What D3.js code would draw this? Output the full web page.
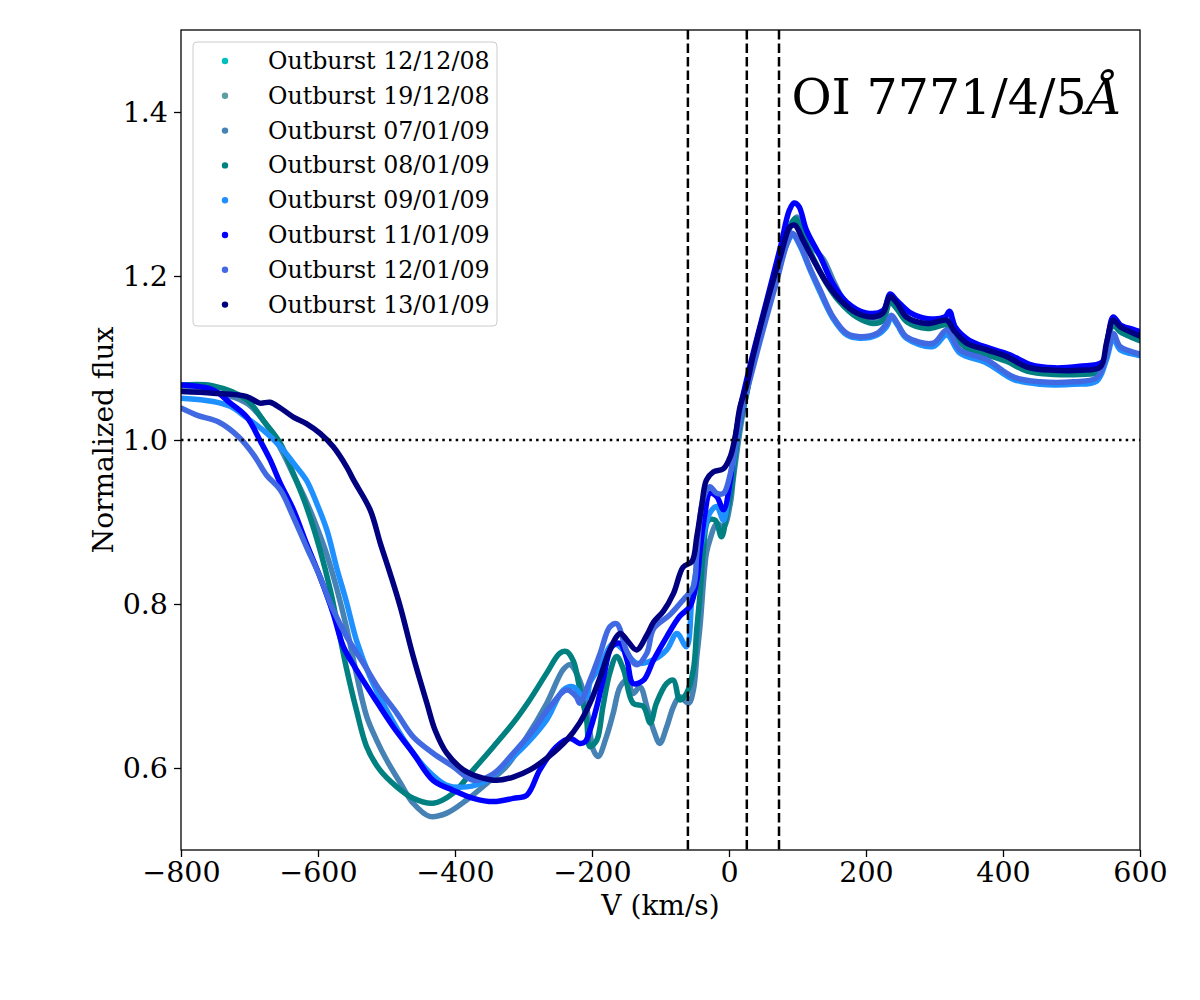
<!DOCTYPE html>
<html>
<head>
<meta charset="utf-8">
<script src="https://cdn.jsdelivr.net/npm/d3@7"></script>
<style>
  body { margin: 0; background: #fff; }
  svg { display: block; }
  text { font-family: "DejaVu Serif", serif; }
</style>
</head>
<body>
<svg id="chart" width="1200" height="1000"></svg>
<script>
// ---- Data (velocity km/s, normalized flux) ----
const seriesNames = ["Outburst 12/12/08","Outburst 19/12/08","Outburst 07/01/09","Outburst 08/01/09",
                     "Outburst 09/01/09","Outburst 11/01/09","Outburst 12/01/09","Outburst 13/01/09"];
const seriesColors = ["#00bfbf","#5f9ea0","#4682b4","#008080","#1e90ff","#0000ff","#4169e1","#000080"];

const out121208 = [];
const out191208 = [];
const out070109 = [[-800,1.060],[-750,1.058],[-704,1.045],[-680,1.024],[-655,0.990],[-636,0.958],[-617,0.925],[-600,0.890],[-587,0.860],[-573,0.820],[-558,0.770],[-544,0.715],[-529,0.663],[-515,0.635],[-500,0.610],[-480,0.582],[-461,0.557],[-437,0.541],[-412,0.545],[-383,0.561],[-354,0.581],[-325,0.602],[-295,0.638],[-266,0.679],[-242,0.720],[-232,0.726],[-218,0.707],[-208,0.675],[-198,0.622],[-191,0.614],[-179,0.638],[-169,0.667],[-159,0.699],[-149,0.707],[-140,0.691],[-130,0.699],[-120,0.675],[-110,0.646],[-101,0.630],[-91,0.650],[-81,0.675],[-72,0.687],[-59,0.679],[-52,0.695],[-47,0.736],[-42,0.776],[-37,0.830],[-33,0.862],[-28,0.878],[-18,0.898],[-8,0.894],[2,0.923],[6,0.951],[14,1.000],[21,1.037],[30,1.075],[45,1.125],[60,1.175],[78,1.230],[92,1.265],[99,1.272],[108,1.258],[123,1.235],[138,1.220],[152,1.195],[167,1.171],[182,1.159],[200,1.150],[222,1.150],[234,1.172],[245,1.163],[262,1.148],[290,1.140],[316,1.144],[324,1.150],[332,1.133],[350,1.116],[378,1.107],[408,1.098],[438,1.086],[475,1.082],[512,1.082],[542,1.086],[552,1.114],[561,1.144],[572,1.134],[592,1.126],[600,1.124]];
const out080109 = [[-800,1.067],[-753,1.066],[-704,1.049],[-680,1.024],[-655,0.996],[-636,0.959],[-617,0.919],[-597,0.866],[-582,0.817],[-568,0.760],[-558,0.720],[-544,0.671],[-529,0.626],[-510,0.598],[-485,0.577],[-461,0.563],[-432,0.557],[-403,0.569],[-373,0.598],[-344,0.626],[-315,0.655],[-291,0.683],[-266,0.716],[-247,0.740],[-237,0.742],[-227,0.730],[-218,0.697],[-208,0.659],[-203,0.626],[-193,0.634],[-184,0.675],[-174,0.716],[-164,0.736],[-154,0.720],[-140,0.679],[-125,0.675],[-115,0.655],[-106,0.679],[-91,0.703],[-81,0.707],[-72,0.683],[-62,0.691],[-52,0.720],[-47,0.770],[-42,0.815],[-38,0.860],[-30,0.902],[-20,0.902],[-11,0.882],[-3,0.911],[4,0.943],[9,0.980],[16,1.020],[26,1.057],[35,1.100],[55,1.165],[75,1.225],[90,1.262],[97,1.270],[108,1.250],[123,1.222],[143,1.190],[162,1.168],[186,1.150],[211,1.142],[225,1.146],[235,1.168],[245,1.160],[260,1.144],[290,1.136],[318,1.140],[328,1.128],[347,1.112],[376,1.104],[405,1.096],[435,1.084],[474,1.080],[512,1.080],[542,1.084],[551,1.112],[561,1.140],[571,1.132],[591,1.124],[600,1.121]];
const out090109 = [[-800,1.051],[-753,1.047],[-728,1.041],[-704,1.027],[-680,1.012],[-655,0.992],[-636,0.972],[-617,0.951],[-602,0.923],[-587,0.890],[-573,0.845],[-558,0.801],[-544,0.756],[-524,0.711],[-500,0.671],[-471,0.630],[-441,0.598],[-412,0.579],[-383,0.577],[-354,0.585],[-325,0.606],[-295,0.630],[-266,0.659],[-242,0.695],[-227,0.699],[-218,0.691],[-208,0.686],[-203,0.704],[-188,0.724],[-169,0.752],[-154,0.744],[-135,0.728],[-110,0.732],[-91,0.744],[-76,0.764],[-62,0.748],[-54,0.809],[-47,0.845],[-38,0.882],[-28,0.911],[-18,0.919],[-8,0.902],[-1,0.935],[6,0.972],[16,1.025],[30,1.075],[50,1.140],[70,1.200],[85,1.240],[93,1.250],[104,1.236],[118,1.208],[133,1.180],[152,1.148],[172,1.128],[191,1.124],[216,1.128],[230,1.138],[237,1.150],[246,1.140],[259,1.124],[298,1.114],[318,1.128],[337,1.106],[376,1.094],[415,1.074],[454,1.068],[503,1.068],[537,1.072],[551,1.098],[561,1.124],[571,1.110],[595,1.104],[600,1.103]];
const out110109 = [[-800,1.067],[-753,1.061],[-728,1.045],[-704,1.028],[-685,1.000],[-670,0.976],[-655,0.947],[-636,0.915],[-617,0.874],[-597,0.833],[-578,0.789],[-563,0.748],[-544,0.720],[-519,0.687],[-490,0.650],[-461,0.618],[-432,0.585],[-403,0.573],[-373,0.563],[-344,0.559],[-315,0.563],[-295,0.567],[-276,0.598],[-252,0.626],[-232,0.636],[-218,0.630],[-210,0.632],[-203,0.646],[-193,0.675],[-184,0.707],[-171,0.748],[-159,0.752],[-149,0.732],[-140,0.703],[-125,0.707],[-110,0.732],[-91,0.760],[-72,0.785],[-57,0.797],[-47,0.829],[-42,0.866],[-35,0.911],[-28,0.935],[-18,0.931],[-8,0.915],[2,0.951],[6,0.984],[11,1.012],[18,1.045],[35,1.105],[55,1.170],[75,1.235],[88,1.280],[95,1.289],[102,1.285],[113,1.256],[133,1.224],[152,1.190],[172,1.168],[200,1.155],[225,1.158],[235,1.178],[245,1.170],[265,1.155],[290,1.148],[315,1.150],[322,1.157],[330,1.138],[350,1.122],[380,1.112],[410,1.104],[440,1.092],[475,1.088],[512,1.090],[545,1.095],[553,1.125],[561,1.150],[572,1.140],[590,1.135],[600,1.132]];
const out120109 = [[-800,1.039],[-776,1.030],[-745,1.022],[-716,1.004],[-694,0.982],[-675,0.957],[-655,0.939],[-636,0.906],[-617,0.870],[-597,0.833],[-578,0.793],[-558,0.760],[-534,0.728],[-510,0.695],[-485,0.667],[-461,0.638],[-432,0.618],[-403,0.602],[-373,0.585],[-344,0.593],[-315,0.618],[-286,0.646],[-261,0.675],[-237,0.695],[-223,0.687],[-218,0.679],[-203,0.707],[-188,0.740],[-174,0.772],[-164,0.776],[-149,0.742],[-135,0.726],[-120,0.740],[-110,0.770],[-86,0.787],[-67,0.805],[-52,0.821],[-47,0.862],[-38,0.927],[-28,0.943],[-18,0.935],[-8,0.935],[2,0.959],[9,0.992],[16,1.025],[30,1.072],[50,1.135],[70,1.195],[84,1.238],[92,1.252],[104,1.238],[118,1.210],[133,1.183],[152,1.150],[172,1.130],[191,1.126],[216,1.130],[230,1.142],[237,1.152],[246,1.142],[259,1.126],[298,1.118],[318,1.134],[337,1.110],[376,1.098],[415,1.077],[454,1.071],[503,1.071],[537,1.076],[551,1.102],[561,1.130],[571,1.114],[595,1.106],[600,1.105]];
const out130109 = [[-800,1.059],[-753,1.057],[-704,1.053],[-685,1.045],[-670,1.046],[-655,1.039],[-636,1.028],[-617,1.020],[-597,1.008],[-578,0.992],[-558,0.967],[-548,0.951],[-524,0.915],[-509,0.874],[-495,0.838],[-480,0.797],[-461,0.736],[-441,0.679],[-429,0.646],[-412,0.618],[-388,0.598],[-364,0.589],[-339,0.585],[-315,0.589],[-290,0.598],[-266,0.612],[-237,0.634],[-218,0.655],[-203,0.679],[-188,0.711],[-174,0.744],[-159,0.764],[-149,0.756],[-135,0.744],[-120,0.762],[-110,0.778],[-96,0.791],[-81,0.813],[-67,0.845],[-54,0.852],[-47,0.882],[-40,0.919],[-33,0.951],[-23,0.961],[-8,0.965],[2,0.980],[9,1.004],[16,1.040],[26,1.068],[35,1.102],[55,1.167],[75,1.224],[89,1.260],[96,1.262],[108,1.244],[123,1.220],[143,1.191],[162,1.171],[186,1.155],[211,1.150],[225,1.155],[235,1.175],[245,1.167],[259,1.150],[289,1.142],[318,1.146],[328,1.134],[347,1.118],[376,1.110],[405,1.102],[435,1.089],[474,1.085],[512,1.085],[542,1.089],[551,1.118],[561,1.146],[571,1.138],[591,1.130],[600,1.127]];

const seriesData = [out121208, out191208, out070109, out080109, out090109, out110109, out120109, out130109];

const xTicks = [-800,-600,-400,-200,0,200,400,600];
const yTicks = [0.6,0.8,1.0,1.2,1.4];
const vLines = [-60, 26, 73];
const refFlux = 1.0;

// ---- Layout ----
const svg = d3.select("#chart");
const L = 181, R = 1140, T = 30, B = 850;
const x = d3.scaleLinear().domain([-800, 600]).range([L, R]);
const y = d3.scaleLinear().domain([0.5, 1.5]).range([B, T]);

svg.append("defs").append("clipPath").attr("id","clip")
  .append("rect").attr("x",L).attr("y",T).attr("width",R-L).attr("height",B-T);

const plot = svg.append("g").attr("clip-path","url(#clip)");

const line = d3.line().x(d => x(d[0])).y(d => y(d[1])).curve(d3.curveCatmullRom.alpha(0.5));

seriesData.forEach((data, i) => {
  if (!data.length) return;
  plot.append("path").datum(data)
    .attr("d", line)
    .attr("fill","none")
    .attr("stroke", seriesColors[i])
    .attr("stroke-width", 5.5)
    .attr("stroke-linejoin","round")
    .attr("stroke-linecap","round");
});

// reference lines
plot.append("line")
  .attr("x1", L).attr("x2", R).attr("y1", y(refFlux)).attr("y2", y(refFlux))
  .attr("stroke","#000").attr("stroke-width",2.5).attr("stroke-dasharray","2.5 4.2");
vLines.forEach(v => {
  plot.append("line")
    .attr("x1", x(v)).attr("x2", x(v)).attr("y1", T).attr("y2", B)
    .attr("stroke","#000").attr("stroke-width",2.5).attr("stroke-dasharray","9.5 4");
});

// axes
const xAxis = d3.axisBottom(x).tickValues(xTicks).tickSize(7).tickPadding(5)
  .tickFormat(d => d < 0 ? "\u2212" + Math.abs(d) : String(d));
const yAxis = d3.axisLeft(y).tickValues(yTicks).tickSize(7).tickPadding(6)
  .tickFormat(d3.format(".1f"));

const gx = svg.append("g").attr("transform", `translate(0,${B})`).call(xAxis);
const gy = svg.append("g").attr("transform", `translate(${L},0)`).call(yAxis);
[gx, gy].forEach(g => {
  g.select(".domain").remove();
  g.selectAll(".tick line").attr("stroke","#000").attr("stroke-width",1.3);
  g.selectAll(".tick text").attr("fill","#000").style("font-size","28.5px").style("font-family","DejaVu Serif");
});

// frame
svg.append("rect").attr("x",L).attr("y",T).attr("width",R-L).attr("height",B-T)
  .attr("fill","none").attr("stroke","#000").attr("stroke-width",1.3);

// labels
svg.append("text").attr("x",(L+R)/2).attr("y",915).attr("text-anchor","middle")
  .style("font-size","28px").text("V (km/s)");
svg.append("text").attr("transform",`translate(113,${(T+B)/2}) rotate(-90)`).attr("text-anchor","middle")
  .style("font-size","28px").text("Normalized flux");

// title
const title = svg.append("text").attr("x",1122).attr("y",114).attr("text-anchor","end").style("font-size","49px");
title.append("tspan").text("OI 7771/4/5");
title.append("tspan").style("font-style","italic").text("Å");

// legend
const lg = svg.append("g");
lg.append("rect").attr("x",193).attr("y",42).attr("width",304).attr("height",284).attr("rx",4)
  .attr("fill","#fff").attr("fill-opacity",0.8).attr("stroke","#cccccc").attr("stroke-width",1);
seriesNames.forEach((name, i) => {
  const cy = 61 + i * 34.8;
  lg.append("circle").attr("cx",225).attr("cy",cy).attr("r",3.2).attr("fill",seriesColors[i]);
  lg.append("text").attr("x",268).attr("y",cy+8).style("font-size","23.7px").attr("fill","#000").text(name);
});
</script>
</body>
</html>
